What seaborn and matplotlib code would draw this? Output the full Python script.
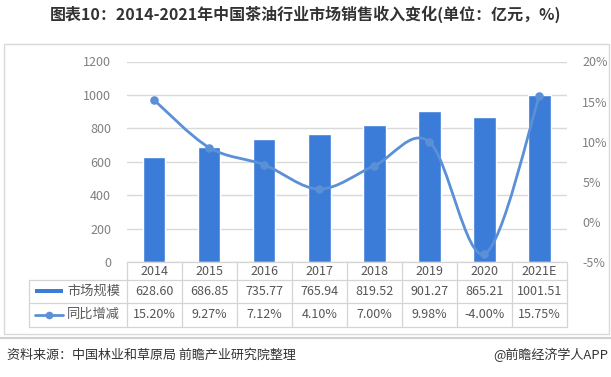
import numpy as np
import pandas as pd
import matplotlib
matplotlib.use("Agg")
import matplotlib.pyplot as plt
import seaborn as sns
from matplotlib.path import Path
from matplotlib.patches import PathPatch, Rectangle
from matplotlib.lines import Line2D
from matplotlib.ticker import FuncFormatter

years = ["2014", "2015", "2016", "2017", "2018", "2019", "2020", "2021E"]
sales = [628.60, 686.85, 735.77, 765.94, 819.52, 901.27, 865.21, 1001.51]
growth = [15.20, 9.27, 7.12, 4.10, 7.00, 9.98, -4.00, 15.75]
series_names = ["市场规模", "同比增减"]
title = "图表10：2014-2021年中国茶油行业市场销售收入变化(单位：亿元，%)"
source = "资料来源：中国林业和草原局 前瞻产业研究院整理"
brand = "@前瞻经济学人APP"

sns.set_theme(style="white")
plt.rcParams['font.family'] = ['Noto Sans CJK SC', 'DejaVu Sans']
plt.rcParams['axes.unicode_minus'] = False

W, H = 611, 377
BAR = "#3b7cd8"
LINE = "#5b8fd6"
GRID = "#d9d9d9"
TICK = "#808080"
TXT = "#555555"

fig = plt.figure(figsize=(W / 100, H / 100), dpi=100)
fig.patch.set_facecolor("white")

L, R, T, B = 126.5, 567, 61.5, 262
ax = fig.add_axes([L / W, 1 - B / H, (R - L) / W, (B - T) / H])
df = pd.DataFrame({"year": years, "sales": sales})
sns.barplot(data=df, x="year", y="sales", ax=ax, color=BAR, width=0.41,
            saturation=1, zorder=2)
ax.set_xlim(-0.5, len(years) - 0.5)
ax.set_ylim(0, 1200)
ax.set_yticks(np.arange(0, 1201, 200))
ax.yaxis.grid(True, color=GRID, lw=1.0, zorder=0)
ax.set_axisbelow(True)
for s in ax.spines.values():
    s.set_visible(False)
ax.set_xlabel("")
ax.set_ylabel("")
ax.set_xticks([])
ax.tick_params(axis="y", length=0, pad=11, labelsize=9, labelcolor=TICK)

ax2 = ax.twinx()
ax2.set_ylim(-5, 20)
ax2.set_yticks(np.arange(-5, 21, 5))
ax2.yaxis.set_major_formatter(FuncFormatter(lambda v, p: f"{v:.0f}%"))
ax2.tick_params(axis="y", length=0, pad=11, labelsize=9, labelcolor=TICK)
for s in ax2.spines.values():
    s.set_visible(False)
ax2.grid(False)

# smooth (Catmull-Rom style) curve through the data points
xs = np.arange(len(growth), dtype=float)
ys = np.array(growth, dtype=float)
verts = [(xs[0], ys[0])]
codes = [Path.MOVETO]
n = len(xs)
for i in range(n - 1):
    p0 = np.array([xs[max(i - 1, 0)], ys[max(i - 1, 0)]])
    p1 = np.array([xs[i], ys[i]])
    p2 = np.array([xs[i + 1], ys[i + 1]])
    p3 = np.array([xs[min(i + 2, n - 1)], ys[min(i + 2, n - 1)]])
    c1 = p1 + (p2 - p0) / 6
    c2 = p2 - (p3 - p1) / 6
    verts += [tuple(c1), tuple(c2), tuple(p2)]
    codes += [Path.CURVE4] * 3
ax2.add_patch(PathPatch(Path(verts, codes), facecolor="none", edgecolor=LINE,
                        lw=2.0, zorder=3, capstyle="round"))
sns.scatterplot(x=xs, y=ys, ax=ax2, color=LINE, s=38, edgecolor=LINE,
                linewidth=0, zorder=4)
ax2.set_xlim(-0.5, len(years) - 0.5)

# ---- data table under the plot (pixel helpers) ----
def fx(px):
    return px / W

def fy(py):
    return 1 - py / H

colw = (R - L) / len(years)
tcol = "#d4d4d4"
rows = [262, 279.5, 303, 326.5]
tabL = 29

def hline(x0, x1, y, c=tcol, lw=0.9):
    fig.add_artist(Line2D([fx(x0), fx(x1)], [fy(y), fy(y)], color=c, lw=lw))

def vline(x, y0, y1, c=tcol, lw=0.9):
    fig.add_artist(Line2D([fx(x), fx(x)], [fy(y0), fy(y1)], color=c, lw=lw))

hline(L, R, rows[0])
hline(tabL, R, rows[1])
hline(tabL, R, rows[2])
hline(tabL, R, rows[3])
vline(tabL, rows[1], rows[3])
for i in range(len(years) + 1):
    vline(L + i * colw, rows[0], rows[3])

for i, yr in enumerate(years):
    cx = L + (i + 0.5) * colw
    fig.text(fx(cx), fy((rows[0] + rows[1]) / 2 + 0.5), yr, ha="center",
             va="center", fontsize=9, color=TXT)
    fig.text(fx(cx), fy((rows[1] + rows[2]) / 2), f"{sales[i]:.2f}",
             ha="center", va="center", fontsize=9, color=TXT)
    fig.text(fx(cx), fy((rows[2] + rows[3]) / 2), f"{growth[i]:.2f}%",
             ha="center", va="center", fontsize=9, color=TXT)

# legend keys in table
ym1 = (rows[1] + rows[2]) / 2
ym2 = (rows[2] + rows[3]) / 2
fig.add_artist(Rectangle((fx(35), fy(ym1 + 1.6)), (63 - 35) / W, 3.4 / H,
                         transform=fig.transFigure, facecolor=BAR,
                         edgecolor="none"))
fig.add_artist(Line2D([fx(35), fx(63)], [fy(ym2), fy(ym2)], color=LINE, lw=2.0))
fig.add_artist(Line2D([fx(49)], [fy(ym2)], color=LINE, marker="o",
                      markersize=4.5, lw=0))
fig.text(fx(67), fy(ym1), series_names[0], ha="left", va="center",
         fontsize=9.5, color="#595959")
fig.text(fx(67), fy(ym2), series_names[1], ha="left", va="center",
         fontsize=9.5, color="#595959")

# chart frame
fig.add_artist(Rectangle((fx(4), fy(334)), (609 - 4) / W, (334 - 44) / H,
                         transform=fig.transFigure, facecolor="none",
                         edgecolor="#d9d9d9", lw=1.0))

# title
fig.text(0.5, fy(14), title, ha="center", va="center", fontsize=11.5,
         fontweight="bold", color="#333333")

# footer
fig.add_artist(Line2D([0, 1], [fy(337.5), fy(337.5)], color="#cfcfcf", lw=1.5))
fig.text(fx(7), fy(355), source, ha="left", va="center", fontsize=9.4,
         color="#333333")
fig.text(fx(608), fy(355), brand, ha="right", va="center", fontsize=9.4,
         color="#333333")

fig.savefig("out.png", dpi=100, facecolor="white")
